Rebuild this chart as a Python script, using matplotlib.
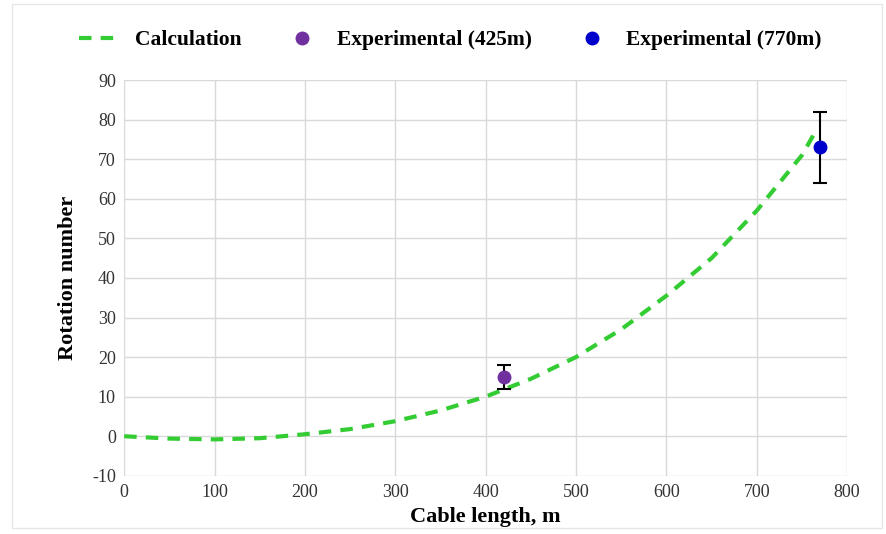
import matplotlib.pyplot as plt
from matplotlib.lines import Line2D

# calculated curve
calc_x = [0, 50, 100, 150, 200, 250, 300, 350, 400, 450, 500, 550, 600, 650, 700, 750, 765]
calc_y = [0, -0.6, -0.8, -0.5, 0.5, 1.8, 3.8, 6.5, 10, 14.5, 20, 27, 35.5, 45, 57, 71, 77]

# experiments
exp1_x = [420]
exp1_y = [15]
exp1_err = [3]
exp2_x = [770]
exp2_y = [73]
exp2_err = [9]

plt.rcParams['font.family'] = ['Liberation Serif', 'DejaVu Serif']
plt.rcParams['axes.unicode_minus'] = False

fig = plt.figure(figsize=(8.87, 5.34), dpi=100)
ax = fig.add_axes([0.14, 0.109, 0.815, 0.741])

ax.plot(calc_x, calc_y, color='#33cc33', linestyle=(0, (3, 2.2)), linewidth=3, zorder=3)
ax.errorbar(exp1_x, exp1_y, yerr=exp1_err, fmt='o', color='#7030a0', markersize=9,
            ecolor='black', elinewidth=1.5, capsize=5, capthick=1.5, zorder=4)
ax.errorbar(exp2_x, exp2_y, yerr=exp2_err, fmt='o', color='#0000cc', markersize=9,
            ecolor='black', elinewidth=1.5, capsize=5, capthick=1.5, zorder=4)

ax.set_xlim(0, 800)
ax.set_ylim(-10, 90)
ax.set_xticks(range(0, 801, 100))
ax.set_yticks(range(-10, 91, 10))
ax.grid(True, color='#d9d9d9', linewidth=1)
ax.set_axisbelow(True)
for s in ax.spines.values():
    s.set_visible(False)
ax.tick_params(length=0, labelsize=13, colors='#333333', pad=6)
ax.set_xlabel('Cable length, m', fontsize=16, fontweight='bold', labelpad=4)
ax.set_ylabel('Rotation number', fontsize=16, fontweight='bold', labelpad=10)

handles = [
    Line2D([], [], color='#33cc33', linestyle=(0, (3, 2.2)), linewidth=3),
    Line2D([], [], color='#7030a0', marker='o', linestyle='none', markersize=9),
    Line2D([], [], color='#0000cc', marker='o', linestyle='none', markersize=9),
]
labels = ['Calculation', 'Experimental (425m)', 'Experimental (770m)']
fig.legend(handles, labels, loc='center', bbox_to_anchor=(0.508, 0.925), ncol=3, frameon=False,
           prop={'size': 15.5, 'weight': 'bold'}, handlelength=2.0, handletextpad=0.6,
           columnspacing=1.8)

# faint outer frame
fig.patches.append(plt.Rectangle((0.014, 0.012), 0.98, 0.98, transform=fig.transFigure,
                                 fill=False, edgecolor='#e6e6e6', linewidth=1))

fig.savefig('out.png', dpi=100)
